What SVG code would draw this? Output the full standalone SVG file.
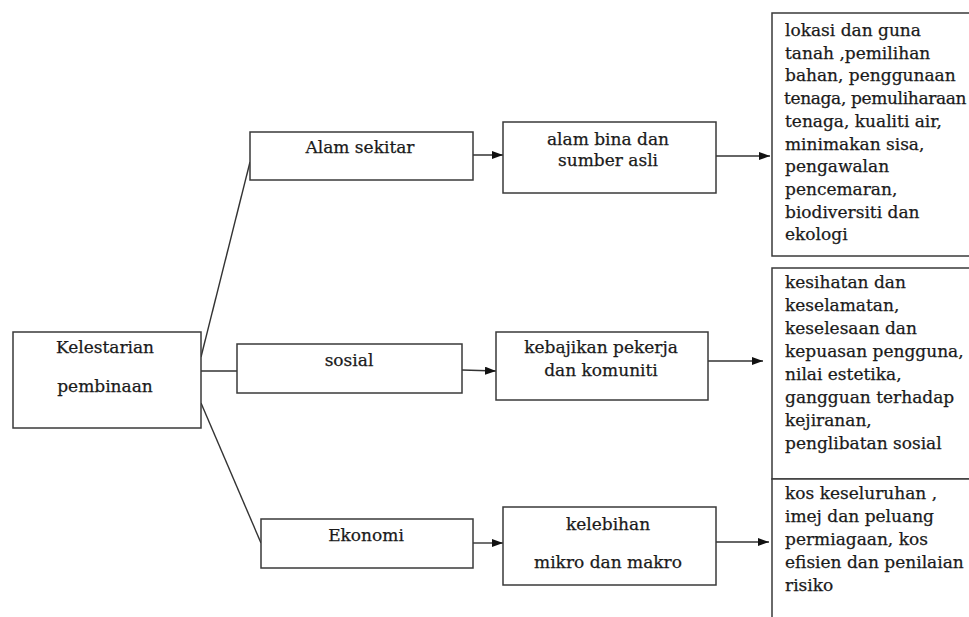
<svg xmlns="http://www.w3.org/2000/svg" width="969" height="617" viewBox="0 0 969 617">
<style>
.box{fill:#fff;stroke:#3a3a3a;stroke-width:1.5}
.t{font-family:"DejaVu Serif","Liberation Serif",serif;font-size:17px;fill:#1a1a1a;stroke:#1a1a1a;stroke-width:0.25}
.c{text-anchor:middle}
.ln{fill:none;stroke:#333;stroke-width:1.4}
</style>
<defs>
<marker id="ah" markerUnits="userSpaceOnUse" markerWidth="12" markerHeight="10" refX="11" refY="4" orient="auto">
<path d="M0,0 L11,4 L0,8 Z" fill="#111"/>
</marker>
</defs>
<rect width="969" height="617" fill="#fff"/>
<g id="connectors">
<line class="ln" x1="201" y1="357" x2="250" y2="162"/>
<line class="ln" x1="201" y1="371" x2="237" y2="371"/>
<line class="ln" x1="201" y1="403" x2="261" y2="543"/>
<line class="ln" x1="465" y1="155" x2="503" y2="155" marker-end="url(#ah)"/>
<line class="ln" x1="462" y1="370" x2="496" y2="371" marker-end="url(#ah)"/>
<line class="ln" x1="473" y1="543" x2="503" y2="543" marker-end="url(#ah)"/>
<line class="ln" x1="716" y1="156" x2="770" y2="156" marker-end="url(#ah)"/>
<line class="ln" x1="708" y1="361" x2="763" y2="361" marker-end="url(#ah)"/>
<line class="ln" x1="716" y1="542" x2="769" y2="542" marker-end="url(#ah)"/>
</g>
<g id="kelestarian">
<rect class="box" x="13" y="332" width="188" height="96"/>
<text class="t c" x="105" y="353">Kelestarian</text>
<text class="t c" x="105" y="392">pembinaan</text>
</g>
<g id="alam-sekitar">
<rect class="box" x="250" y="132" width="223" height="48"/>
<text class="t c" x="360" y="153">Alam sekitar</text>
</g>
<g id="sosial">
<rect class="box" x="237" y="344" width="225" height="49"/>
<text class="t c" x="349" y="366">sosial</text>
</g>
<g id="ekonomi">
<rect class="box" x="261" y="519" width="212" height="49"/>
<text class="t c" x="366" y="541">Ekonomi</text>
</g>
<g id="alam-bina">
<rect class="box" x="503" y="122" width="213" height="71"/>
<text class="t c" x="608" y="145">alam bina dan</text>
<text class="t c" x="608" y="166">sumber asli</text>
</g>
<g id="kebajikan">
<rect class="box" x="496" y="332" width="212" height="68"/>
<text class="t c" x="601" y="353">kebajikan pekerja</text>
<text class="t c" x="601" y="376">dan komuniti</text>
</g>
<g id="kelebihan">
<rect class="box" x="503" y="507" width="213" height="78"/>
<text class="t c" x="608" y="530">kelebihan</text>
<text class="t c" x="608" y="568">mikro dan makro</text>
</g>
<g id="box-alam">
<rect class="box" x="772" y="13" width="220" height="243"/>
<text class="t" x="785" y="36">lokasi dan guna</text>
<text class="t" x="785" y="58.7">tanah ,pemilihan</text>
<text class="t" x="785" y="81.4">bahan, penggunaan</text>
<text class="t" x="784" y="104.1" letter-spacing="-0.35">tenaga, pemuliharaan</text>
<text class="t" x="785" y="126.8">tenaga, kualiti air,</text>
<text class="t" x="785" y="149.5">minimakan sisa,</text>
<text class="t" x="785" y="172.2">pengawalan</text>
<text class="t" x="785" y="194.9">pencemaran,</text>
<text class="t" x="785" y="217.6">biodiversiti dan</text>
<text class="t" x="785" y="240.3">ekologi</text>
</g>
<g id="box-sosial">
<rect class="box" x="772" y="268" width="220" height="211"/>
<text class="t" x="785" y="288">kesihatan dan</text>
<text class="t" x="785" y="311">keselamatan,</text>
<text class="t" x="785" y="334">keselesaan dan</text>
<text class="t" x="785" y="357">kepuasan  pengguna,</text>
<text class="t" x="785" y="380">nilai estetika,</text>
<text class="t" x="785" y="403">gangguan terhadap</text>
<text class="t" x="785" y="426">kejiranan,</text>
<text class="t" x="785" y="449">penglibatan sosial</text>
</g>
<g id="box-ekonomi">
<rect class="box" x="772" y="479" width="220" height="170"/>
<text class="t" x="785" y="499">kos keseluruhan ,</text>
<text class="t" x="785" y="522">imej dan peluang</text>
<text class="t" x="785" y="545">permiagaan, kos</text>
<text class="t" x="785" y="568">efisien dan penilaian</text>
<text class="t" x="785" y="591">risiko</text>
</g>
</svg>
